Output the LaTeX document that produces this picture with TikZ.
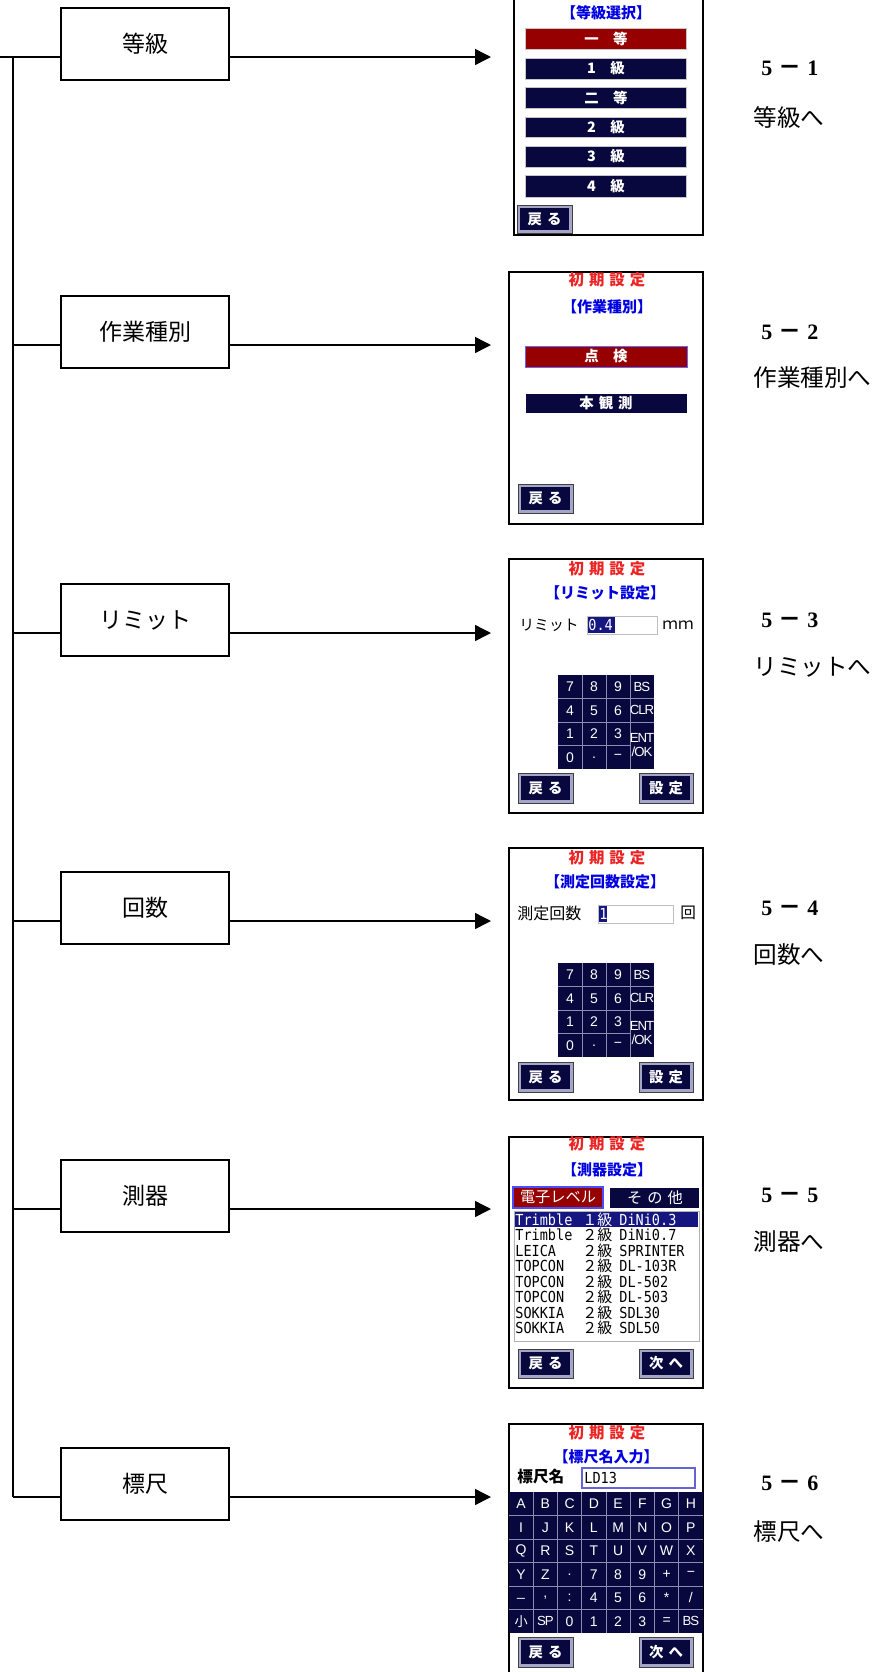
\documentclass[tikz,border=0pt]{standalone}
\usepackage{fontspec}
\usepackage{graphicx}
\setmainfont{Liberation Serif}
\newfontfamily\cjk{Noto Sans CJK JP}
\newfontfamily\lsans{Liberation Sans}
\newfontfamily\mono{DejaVu Sans Mono}
\usetikzlibrary{arrows.meta}
\definecolor{navy}{RGB}{8,8,62}
\definecolor{scrred}{RGB}{150,0,0}
\definecolor{titred}{RGB}{235,35,35}
\definecolor{titblue}{RGB}{0,0,225}
\definecolor{hilite}{RGB}{22,22,128}
\definecolor{gridc}{RGB}{140,140,178}
\definecolor{btnedge}{RGB}{165,165,200}
\newcommand\lsp{\hspace{2.5pt}}
\newcommand\mybtn[6]{%
  \fill[btnedge] (#2,#3) rectangle (#4,#5);
  \fill[navy] (#2+3,#3+3) rectangle (#4-3,#5-3);
  \draw[black!75,line width=0.5pt] (#2,#3) rectangle (#4,#5);
  \node[wtxt] (#1) at ({(#2+#4)/2},{(#3+#5)/2}) {#6};}
\newcommand\mykeypad[3]{%
  \fill[navy] (#2,#3) rectangle ++(96,94);
  \foreach \dx in {24,48,72} \draw[gridl] (#2+\dx,#3) -- ++(0,94);
  \foreach \dy in {23.5,47} \draw[gridl] (#2,#3+\dy) -- ++(96,0);
  \draw[gridl] (#2,#3+70.5) -- ++(72,0);
  \foreach \t [count=\i from 0] in {7,8,9} \node[key] (#1a\i) at (#2+12+24*\i,#3+11.75) {\t};
  \node[keyn] (#1a3) at (#2+84,#3+11.75) {BS};
  \foreach \t [count=\i from 0] in {4,5,6} \node[key] (#1b\i) at (#2+12+24*\i,#3+35.25) {\t};
  \node[keyn] (#1b3) at (#2+84,#3+35.25) {CLR};
  \foreach \t [count=\i from 0] in {1,2,3} \node[key] (#1c\i) at (#2+12+24*\i,#3+58.75) {\t};
  \foreach \t [count=\i from 0] in {0,.,−} \node[key] (#1d\i) at (#2+12+24*\i,#3+82.25) {\t};
  \node[keyn,align=center] (#1ent) at (#2+84,#3+70.5) {ENT\\/OK};}
\begin{document}
\begin{tikzpicture}[x=0.5pt,y=-0.5pt,
  conn/.style={draw=black,line width=0.75pt},
  arr/.style={conn,-{Triangle[length=8pt,width=8pt]}},
  ibox/.style={draw=black,line width=0.75pt,minimum width=84pt,minimum height=36pt,inner sep=0pt,font=\cjk\fontsize{11.5}{12}\selectfont},
  numlab/.style={anchor=west,inner sep=0pt,font=\bfseries\fontsize{11}{12}\selectfont},
  tlab/.style={anchor=west,inner sep=0pt,font=\cjk\fontsize{11.8}{13}\selectfont},
  frame/.style={draw=black,line width=1pt},
  ttlred/.style={inner sep=0pt,text=titred,font=\cjk\bfseries\fontsize{7.7}{8}\selectfont},
  ttlblue/.style={inner sep=0pt,text=titblue,font=\cjk\bfseries\fontsize{7.5}{8}\selectfont},
  wtxt/.style={inner sep=0pt,text=white,font=\cjk\bfseries\fontsize{7.2}{8}\selectfont},
  key/.style={inner sep=0pt,text=white,font=\lsans\fontsize{7}{7.5}\selectfont},
  keyn/.style={inner sep=0pt,text=white,font=\lsans\fontsize{6.6}{7}\selectfont\addfontfeature{LetterSpace=-8}},
  gridl/.style={draw=gridc,line width=0.5pt},
  sbar/.style={draw=gray!45,line width=0.5pt},
  lst/.style={anchor=west,inner sep=0pt,font=\mono\fontsize{7.6}{8}\selectfont},
  lstj/.style={anchor=west,inner sep=0pt,font=\cjk\fontsize{7.5}{8}\selectfont},
  btxt/.style={anchor=west,inner sep=0pt,font=\cjk\fontsize{7.8}{8}\selectfont},
]
\useasboundingbox (0,0) rectangle (880,1672);

% ---------- left tree ----------
\node[ibox] (b1) at (145,44) {等級};
\node[ibox] (b2) at (145,332) {作業種別};
\node[ibox] (b3) at (145,620) {リミット};
\node[ibox] (b4) at (145,908) {回数};
\node[ibox] (b5) at (145,1196) {測器};
\node[ibox] (b6) at (145,1484) {標尺};
\coordinate (s0) at (0,57);
\coordinate (s1) at (13,57);
\coordinate (s2) at (13,345);
\coordinate (s3) at (13,633);
\coordinate (s4) at (13,921);
\coordinate (s5) at (13,1209);
\coordinate (s6) at (13,1497);
\coordinate (t1) at (491,57);
\coordinate (t2) at (491,345);
\coordinate (t3) at (491,633);
\coordinate (t4) at (491,921);
\coordinate (t5) at (491,1209);
\coordinate (t6) at (491,1497);
\draw[conn] (s0) -- ([yshift=-6.5pt]b1.west);
\draw[conn] (s1) -- (s6);
\foreach \k in {2,...,6} \draw[conn] (s\k) -- ([yshift=-6.5pt]b\k.west);
\foreach \k in {1,...,6} \draw[arr] ([yshift=-6.5pt]b\k.east) -- (t\k);

% ---------- right labels ----------
\foreach \k/\y/\yy/\txt in {1/68/117/等級へ,2/332/378/作業種別へ,3/620/667/リミットへ,4/908/955/回数へ,5/1195/1242/測器へ,6/1483/1532/標尺へ}{
  \node[numlab] (n\k) at (755,\y) {\makebox[11.5pt]{5}\makebox[11.5pt]{\cjk\fontsize{11.5}{12}\selectfont －}\makebox[11.5pt]{\k}};
  \node[tlab] (m\k) at (753,\yy) {\txt};
}

% ---------- screen 1 ----------
\draw[frame] (514,-2) -- (514,235) -- (703,235) -- (703,-2);
\node[ttlblue] (h1) at (606,13) {【等級選択】};
\foreach \ya/\yb/\txt [count=\i] in {28/49/一　等,58/79/1　級,87/108/二　等,117/137/2　級,146/167/3　級,175/197/4　級}{
  \ifnum\i=1 \filldraw[sbar,fill=scrred] (525,\ya) rectangle (686,\yb);
  \else \filldraw[sbar,fill=navy] (525,\ya) rectangle (686,\yb); \fi
  \node[wtxt] (g\i) at (606,{(\ya+\yb)/2}) {\txt};
}
\mybtn{r1}{517}{205}{572}{233}{戻\lsp る}

% ---------- screen 2 ----------
\draw[frame] (509,272) rectangle (703,524);
\node[ttlred] (i2) at (607,280) {初\lsp 期\lsp 設\lsp 定};
\node[ttlblue] (h2) at (607,307) {【作業種別】};
\filldraw[draw=blue!60,line width=0.5pt,fill=scrred] (525,346) rectangle (687,367);
\node[wtxt] (w1) at (606,356.5) {点　検};
\fill[navy] (526,394) rectangle (687,413);
\node[wtxt] (w2) at (606,403.5) {本\lsp 観\lsp 測};
\mybtn{r2}{518}{484}{573}{513}{戻\lsp る}

% ---------- screen 3 ----------
\draw[frame] (509,559) rectangle (703,813);
\node[ttlred] (i3) at (607,569) {初\lsp 期\lsp 設\lsp 定};
\node[ttlblue] (h3) at (605,593) {【リミット設定】};
\node[btxt,font=\cjk\fontsize{7.4}{8}\selectfont] (lm) at (519,625) {リミット};
\draw[draw=gray!50,line width=0.5pt] (587,616) rectangle (657,634);
\fill[hilite] (588,617) rectangle (615,633);
\node[lst,text=white] (lv) at (588,625) {\scalebox{0.89}[1]{0.4}};
\node[btxt] (mm) at (662,625) {ｍｍ};
\mykeypad{p}{558}{675}
\mybtn{r3}{518}{773}{573}{803}{戻\lsp る}
\mybtn{e3}{639}{773}{693}{803}{設\lsp 定}

% ---------- screen 4 ----------
\draw[frame] (509,848) rectangle (703,1100);
\node[ttlred] (i4) at (607,858) {初\lsp 期\lsp 設\lsp 定};
\node[ttlblue] (h4) at (605,882) {【測定回数設定】};
\node[btxt,font=\cjk\fontsize{8}{9}\selectfont] (kc) at (517,913) {測定回数};
\draw[draw=gray!50,line width=0.5pt] (598,905) rectangle (673,923);
\fill[hilite] (599,906) rectangle (607,922);
\node[lst,text=white] (kv) at (599,914) {\scalebox{0.89}[1]{1}};
\node[btxt] (kai) at (680,913) {回};
\mykeypad{q}{558}{963}
\mybtn{r4}{518}{1062}{573}{1092}{戻\lsp る}
\mybtn{e4}{639}{1062}{693}{1092}{設\lsp 定}

% ---------- screen 5 ----------
\draw[frame] (509,1137) rectangle (703,1388);
\node[ttlred] (i5) at (607,1144) {初\lsp 期\lsp 設\lsp 定};
\node[ttlblue] (h5) at (607,1170) {【測器設定】};
\filldraw[draw=blue!70,line width=0.6pt,fill=scrred] (513,1187) rectangle (603,1208);
\node[wtxt,font=\cjk\fontsize{7.6}{8}\selectfont] (tb1) at (558,1197.5) {電子レベル};
\fill[navy] (610,1188) rectangle (699,1208);
\node[wtxt,font=\cjk\fontsize{7.6}{8}\selectfont] (tb2) at (655,1198) {そ\lsp の\lsp 他};
\draw[draw=gray!60,line width=0.5pt] (514,1211) rectangle (699,1341);
\fill[hilite] (515,1212) rectangle (698,1227);
\node[lst,text=white] (la0) at (515,1219.5) {\scalebox{0.89}[1]{Trimble}};
\node[lstj,text=white] (lb0) at (582,1219.5) {１級};
\node[lst,text=white] (lc0) at (619,1219.5) {\scalebox{0.89}[1]{DiNi0.3}};
\foreach \a/\c [count=\i] in {Trimble/DiNi0.7,LEICA/SPRINTER,TOPCON/DL-103R,TOPCON/DL-502,TOPCON/DL-503,SOKKIA/SDL30,SOKKIA/SDL50}{
  \node[lst] (la\i) at (515,1219.5+15.5*\i) {\scalebox{0.89}[1]{\a}};
  \node[lstj] (lb\i) at (582,1219.5+15.5*\i) {２級};
  \node[lst] (lc\i) at (619,1219.5+15.5*\i) {\scalebox{0.89}[1]{\c}};
}
\mybtn{r5}{518}{1349}{573}{1378}{戻\lsp る}
\mybtn{e5}{639}{1349}{693}{1378}{次\lsp へ}

% ---------- screen 6 ----------
\draw[frame] (509,1675) -- (509,1424) -- (703,1424) -- (703,1675);
\node[ttlred] (i6) at (607,1433) {初\lsp 期\lsp 設\lsp 定};
\node[ttlblue] (h6) at (606,1457) {【標尺名入力】};
\node[btxt,font=\cjk\bfseries\fontsize{7.8}{9}\selectfont] (hm) at (517,1477) {標尺名};
\draw[draw={rgb,255:red,100;green,100;blue,215},line width=0.6pt] (582,1468) rectangle (695,1488);
\node[lst] (hv) at (584,1478) {\scalebox{0.89}[1]{LD13}};
\fill[navy] (509,1492) rectangle (703,1633);
\foreach \i in {1,...,7} \draw[gridl] ({509+24.25*\i},1492) -- ({509+24.25*\i},1633);
\foreach \j in {1,...,5} \draw[gridl] (509,{1492+23.5*\j}) -- (703,{1492+23.5*\j});
\foreach \t [count=\i from 0] in {A,B,C,D,E,F,G,H} \node[key] (ka\i) at ({521.1+24.25*\i},1503.75) {\t};
\foreach \t [count=\i from 0] in {I,J,K,L,M,N,O,P} \node[key] (kb\i) at ({521.1+24.25*\i},1527.25) {\t};
\foreach \t [count=\i from 0] in {Q,R,S,T,U,V,W,X} \node[key] (kc\i) at ({521.1+24.25*\i},1550.75) {\t};
\foreach \t [count=\i from 0] in {Y,Z,.,7,8,9,+,−} \node[key] (kd\i) at ({521.1+24.25*\i},1574.25) {\t};
\foreach \t [count=\i from 0] in {\_,{,},:,4,5,6,*,/} \node[key] (ke\i) at ({521.1+24.25*\i},1597.75) {\t};
\node[keyn] (kf0) at (521.1,1621.25) {\cjk 小};
\node[keyn] (kf1) at (545.35,1621.25) {SP};
\foreach \t [count=\i from 2] in {0,1,2,3,=} \node[key] (kf\i) at ({521.1+24.25*\i},1621.25) {\t};
\node[keyn] (kf7) at (690.85,1621.25) {BS};
\mybtn{r6}{518}{1637}{573}{1667}{戻\lsp る}
\mybtn{e6}{639}{1637}{693}{1667}{次\lsp へ}
\end{tikzpicture}
\end{document}
